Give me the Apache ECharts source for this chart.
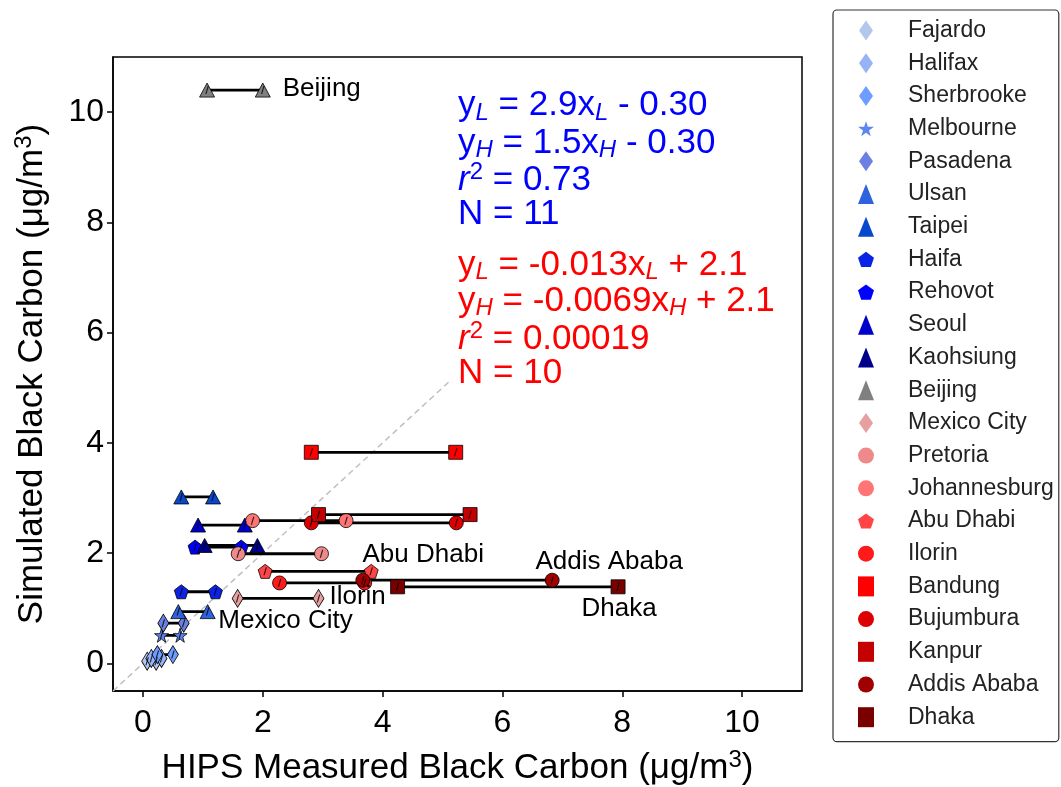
<!DOCTYPE html>
<html>
<head>
<meta charset="utf-8">
<script src="https://cdn.jsdelivr.net/npm/echarts@6/dist/echarts.min.js"></script>
<style>
html,body{margin:0;padding:0;background:#fff;}
#chart{width:1061px;height:787px;}
</style>
</head>
<body>
<div id="chart"></div>
<script>
// ---- data ----
const sites = ['Fajardo','Halifax','Sherbrooke','Melbourne','Pasadena','Ulsan','Taipei','Haifa','Rehovot','Seoul','Kaohsiung','Beijing','Mexico City','Pretoria','Johannesburg','Abu Dhabi','Ilorin','Bandung','Bujumbura','Kanpur','Addis Ababa','Dhaka'];
const hipsLow  = [0.07,0.14,0.24,0.31,0.34,0.59,0.64,0.64,0.87,0.92,1.03,1.07,1.58,1.59,1.83,2.04,2.28,2.81,2.81,2.93,3.67,4.25];
const hipsHigh = [0.22,0.31,0.50,0.62,0.68,1.08,1.17,1.21,1.64,1.70,1.91,2.00,2.93,2.98,3.39,3.81,3.70,5.22,5.23,5.46,6.83,7.93];
const simulated = [0.04,0.09,0.16,0.51,0.73,0.94,3.02,1.30,2.11,2.51,2.14,10.40,1.18,1.99,2.59,1.67,1.46,3.83,2.55,2.70,1.51,1.39];
const oneToOne = [[-0.5,-0.5],[5.1,5.1]];
const xTicks = [0,2,4,6,8,10];
const yTicks = [0,2,4,6,8,10];
const labelledSites = ['Beijing','Abu Dhabi','Ilorin','Mexico City','Addis Ababa','Dhaka'];

// ---- styles ----
const siteColors = ['#b3c6ec','#95b3f5','#6f9cff','#5f86f0','#6b80e0','#2f62dd','#0848cc','#0a22e6','#0000ff','#0000cc','#00008b','#808080','#e6a0a0','#f08a8a','#ff7575','#ff4545','#ff1a1a','#ff0000','#dd0000','#c40000','#a00000','#7a0000'];
const siteShapes = ['diamond','diamond','diamond','star','diamond','triangle','triangle','pentagon','pentagon','triangle','triangle','triangle','diamond','circle','circle','pentagon','circle','square','circle','square','circle','square'];
const STAR = 'path://M50,0 L61,35 L98,35 L68,57 L79,91 L50,70 L21,91 L32,57 L2,35 L39,35 Z';
const PENT = 'path://M50,0 L98,35 L79,91 L21,91 L2,35 Z';
const THIN_DIAMOND = 'path://M35,0 L70,50 L35,100 L0,50 Z';
const SLASH = 'path://M6,0 L9,0 L3,20 L0,20 Z';
const shapeSymbol = {diamond:'diamond', star:STAR, triangle:'triangle', pentagon:PENT, circle:'circle', square:'rect'};
const shapeSize = {diamond:[11,18], star:[14,14], triangle:[15,14], pentagon:[14,14], circle:[14,14], square:[14,14]};
const legendIcon = {diamond:THIN_DIAMOND, star:STAR, triangle:'triangle', pentagon:PENT, circle:'circle', square:'rect'};
const labelOffsets = {'Beijing':[59,-1],'Abu Dhabi':[52,-17],'Ilorin':[-7,14],'Mexico City':[-33,22],'Addis Ababa':[57,-18],'Dhaka':[1,22]};
const FF = 'Liberation Sans, Arial, sans-serif';

const series = [];
series.push({
  type:'line', data: oneToOne, symbol:'none', silent:true, z:1,
  lineStyle:{color:'#c0c0c0', width:1.5, type:[6,4]}
});
sites.forEach((s,i)=>{
  series.push({
    type:'line', name:'_conn_'+s, data:[[hipsLow[i],simulated[i]],[hipsHigh[i],simulated[i]]],
    symbol:'none', silent:true, z:2, lineStyle:{color:'#000', width:2.8}
  });
});
sites.forEach((s,i)=>{
  const sh = siteShapes[i];
  series.push({
    type:'scatter', name:s, z:3,
    data:[[hipsLow[i],simulated[i]],[hipsHigh[i],simulated[i]]],
    symbol: shapeSymbol[sh], symbolSize: shapeSize[sh],
    itemStyle:{color:siteColors[i], borderColor:'#000', borderWidth:0.8, opacity:1}
  });
});
const slashData = [];
sites.forEach((s,i)=>{ slashData.push([hipsLow[i],simulated[i]]); slashData.push([hipsHigh[i],simulated[i]]); });
series.push({
  type:'scatter', name:'_slash', z:4, silent:true, data: slashData,
  symbol: SLASH, symbolSize:[3.5,8], itemStyle:{color:'#000'}
});
series.push({
  type:'scatter', name:'_labels', z:10, silent:true, symbol:'circle', symbolSize:1,
  itemStyle:{opacity:0},
  data: labelledSites.map(n=>{
    const i = sites.indexOf(n);
    return {value:[hipsHigh[i], simulated[i]], name:n,
      label:{show:true, position:'inside', offset: labelOffsets[n], formatter:n,
        fontSize:26, color:'#000', fontFamily:FF, opacity:1}};
  })
});

const legendData = sites.map((s,i)=>({name:s, icon: legendIcon[siteShapes[i]]}));

const eqRich = {
  n:{fontSize:35, fontFamily:FF, lineHeight:38},
  i:{fontSize:35, fontFamily:FF, fontStyle:'italic', lineHeight:38},
  sub:{fontSize:24, fontFamily:FF, fontStyle:'italic', lineHeight:24, padding:[15,0,0,0]},
  sup:{fontSize:24, fontFamily:FF, lineHeight:24, padding:[0,0,15,0]}
};
function eqText(txt, y, color){
  return {type:'text', left:458, top:y, z:20, silent:true,
    style:{text:txt, fill:color, rich:eqRich, font:'35px '+FF}};
}
const blue = '#0000ff', red = '#ff0000';
const titleRich = {t:{fontSize:35, fontFamily:FF, color:'#000', lineHeight:38}, sup:{fontSize:24, fontFamily:FF, color:'#000', lineHeight:24, padding:[0,0,15,0]}};

const option = {
  backgroundColor:'#fff',
  animation:false,
  grid:{left:113, top:57, width:689, height:634, show:true, borderColor:'#000', borderWidth:1.5,
        backgroundColor:'transparent', containLabel:false, outerBoundsMode:'none'},
  xAxis:{
    type:'value', min:-0.5, max:11,
    name:'{t|HIPS Measured Black Carbon (μg/m}{sup|3}{t|)}', nameLocation:'middle', nameGap:58,
    nameTextStyle:{rich:titleRich},
    axisLine:{show:true, onZero:false, lineStyle:{color:'#000', width:1.5}},
    axisTick:{show:true, length:6, lineStyle:{color:'#000', width:1.5}, customValues:xTicks},
    axisLabel:{customValues:xTicks, fontSize:32, color:'#000', fontFamily:FF, margin:16},
    splitLine:{show:false}
  },
  yAxis:{
    type:'value', min:-0.5, max:11,
    name:'{t|Simulated Black Carbon (μg/m}{sup|3}{t|)}', nameLocation:'middle', nameGap:62, nameRotate:90,
    nameTextStyle:{rich:titleRich},
    axisLine:{show:true, onZero:false, lineStyle:{color:'#000', width:1.5}},
    axisTick:{show:true, length:6, lineStyle:{color:'#000', width:1.5}, customValues:yTicks},
    axisLabel:{customValues:yTicks, fontSize:32, color:'#000', fontFamily:FF, margin:9},
    splitLine:{show:false}
  },
  legend:{
    orient:'vertical', left:833, top:10, padding:[9,5,13,25], itemGap:9.7,
    itemWidth:16, itemHeight:20, selectedMode:false,
    textStyle:{fontSize:23, color:'#222', fontFamily:FF, padding:[0,0,0,29], lineHeight:20},
    borderColor:'#333', borderWidth:1.2, borderRadius:4, backgroundColor:'#fff',
    itemStyle:{borderWidth:0},
    data: legendData
  },
  graphic:[
    eqText('{n|y}{sub|L}{n| = 2.9x}{sub|L}{n| - 0.30}', 86, blue),
    eqText('{n|y}{sub|H}{n| = 1.5x}{sub|H}{n| - 0.30}', 123.5, blue),
    eqText('{i|r}{sup|2}{n| = 0.73}', 160.5, blue),
    eqText('{n|N = 11}', 197, blue),
    eqText('{n|y}{sub|L}{n| = -0.013x}{sub|L}{n| + 2.1}', 245.5, red),
    eqText('{n|y}{sub|H}{n| = -0.0069x}{sub|H}{n| + 2.1}', 281.5, red),
    eqText('{i|r}{sup|2}{n| = 0.00019}', 319.5, red),
    eqText('{n|N = 10}', 356, red)
  ],
  series: series
};
const chart = echarts.init(document.getElementById('chart'), null, {renderer:'canvas'});
chart.setOption(option);
</script>
</body>
</html>
